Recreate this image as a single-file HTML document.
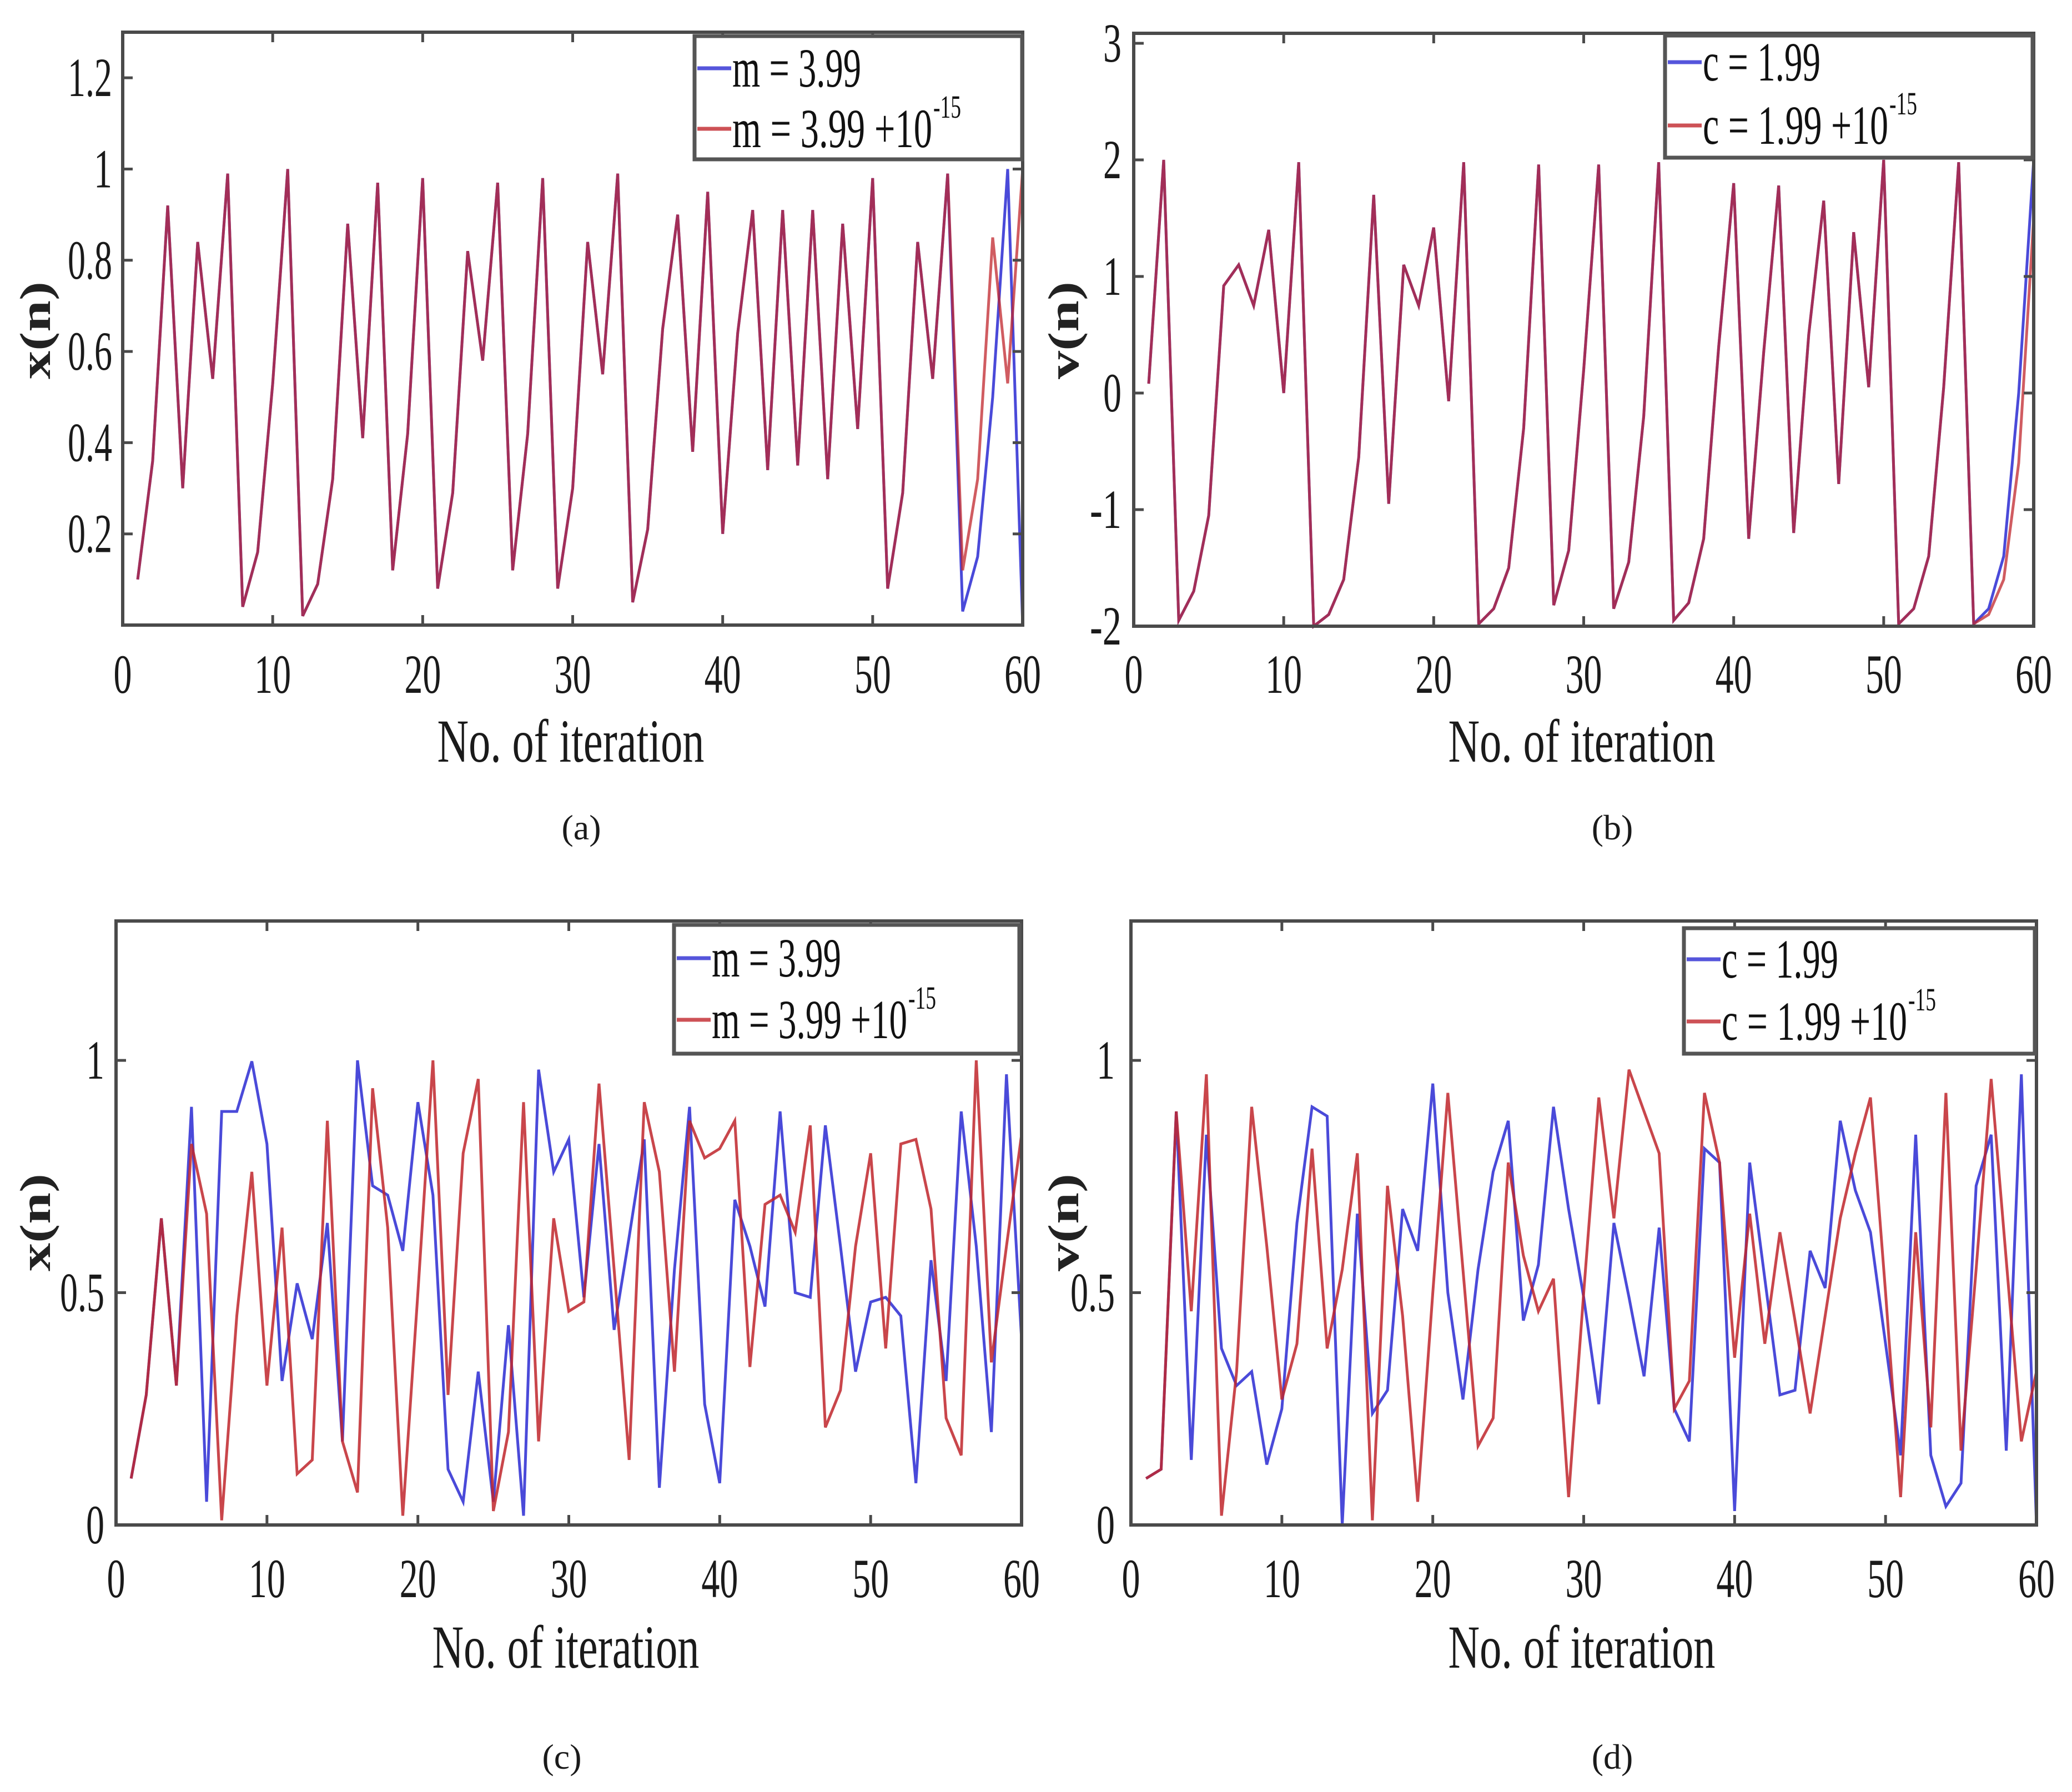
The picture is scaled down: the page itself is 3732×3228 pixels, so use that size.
<!DOCTYPE html>
<html><head><meta charset="utf-8"><style>
html,body{margin:0;padding:0;background:#fff;}
svg{display:block;font-family:"Liberation Serif",serif;}
</style></head><body>
<svg id="fig" xmlns="http://www.w3.org/2000/svg" width="3732" height="3228" viewBox="0 0 3732 3228">
<rect x="0" y="0" width="3732" height="3228" fill="#fff"/>
</svg>
<script>
var xTicks=[0,10,20,30,40,50,60];
var aYTicks=[0.2,0.4,0.6,0.8,1,1.2];
var aYTickLabels=["0.2","0.4","0.6","0.8","1","1.2"];
var bYTicks=[-2,-1,0,1,2,3];
var bYTickLabels=["-2","-1","0","1","2","3"];
var cdYTicks=[0,0.5,1];
var cdYTickLabels=["0","0.5","1"];
var aBlue=[0.1,0.36,0.92,0.30,0.84,0.54,0.99,0.04,0.16,0.53,1.0,0.02,0.09,0.32,0.88,0.41,0.97,0.12,0.42,0.98,0.08,0.29,0.82,0.58,0.97,0.12,0.42,0.98,0.08,0.30,0.84,0.55,0.99,0.05,0.21,0.65,0.90,0.38,0.95,0.20,0.64,0.91,0.34,0.91,0.35,0.91,0.32,0.88,0.43,0.98,0.08,0.29,0.84,0.54,0.99,0.03,0.15,0.50,1.0,0.0];
var aRed=[0.1,0.36,0.92,0.30,0.84,0.54,0.99,0.04,0.16,0.53,1.0,0.02,0.09,0.32,0.88,0.41,0.97,0.12,0.42,0.98,0.08,0.29,0.82,0.58,0.97,0.12,0.42,0.98,0.08,0.30,0.84,0.55,0.99,0.05,0.21,0.65,0.90,0.38,0.95,0.20,0.64,0.91,0.34,0.91,0.35,0.91,0.32,0.88,0.43,0.98,0.08,0.29,0.84,0.54,0.99,0.12,0.32,0.85,0.53,1.0];
var bBlue=[0.08,2.0,-1.95,-1.7,-1.05,0.92,1.1,0.75,1.4,0.0,1.98,-2.0,-1.9,-1.6,-0.55,1.7,-0.95,1.1,0.75,1.42,-0.07,1.98,-1.98,-1.85,-1.5,-0.3,1.96,-1.82,-1.35,0.2,1.96,-1.85,-1.45,-0.2,1.98,-1.95,-1.8,-1.25,0.4,1.8,-1.25,0.35,1.78,-1.2,0.5,1.65,-0.78,1.38,0.05,2.0,-1.98,-1.85,-1.4,0.05,1.98,-1.98,-1.85,-1.4,0.0,2.0];
var bRed=[0.08,2.0,-1.95,-1.7,-1.05,0.92,1.1,0.75,1.4,0.0,1.98,-2.0,-1.9,-1.6,-0.55,1.7,-0.95,1.1,0.75,1.42,-0.07,1.98,-1.98,-1.85,-1.5,-0.3,1.96,-1.82,-1.35,0.2,1.96,-1.85,-1.45,-0.2,1.98,-1.95,-1.8,-1.25,0.4,1.8,-1.25,0.35,1.78,-1.2,0.5,1.65,-0.78,1.38,0.05,2.0,-1.98,-1.85,-1.4,0.05,1.98,-1.98,-1.9,-1.6,-0.6,1.5];
var cBlue=[0.1,0.28,0.66,0.3,0.9,0.05,0.89,0.89,0.998,0.82,0.31,0.52,0.4,0.65,0.18,1.0,0.73,0.71,0.59,0.91,0.71,0.12,0.05,0.33,0.05,0.43,0.02,0.98,0.76,0.83,0.49,0.82,0.42,0.62,0.83,0.08,0.55,0.9,0.26,0.09,0.7,0.6,0.47,0.89,0.5,0.49,0.86,0.6,0.33,0.48,0.49,0.45,0.09,0.57,0.31,0.89,0.6,0.2,0.97,0.4];
var cRed=[0.1,0.28,0.66,0.3,0.82,0.67,0.01,0.45,0.76,0.3,0.64,0.11,0.14,0.87,0.18,0.07,0.94,0.64,0.02,0.5,1.0,0.28,0.8,0.96,0.03,0.2,0.91,0.18,0.66,0.46,0.48,0.95,0.55,0.14,0.91,0.76,0.33,0.87,0.79,0.81,0.87,0.34,0.69,0.71,0.63,0.86,0.21,0.29,0.6,0.8,0.38,0.82,0.83,0.68,0.23,0.15,1.0,0.35,0.6,0.84];
var dBlue=[0.1,0.12,0.89,0.14,0.84,0.38,0.3,0.33,0.13,0.25,0.65,0.9,0.88,0.0,0.67,0.24,0.29,0.68,0.59,0.95,0.5,0.27,0.55,0.76,0.87,0.44,0.56,0.9,0.68,0.49,0.26,0.65,0.49,0.32,0.64,0.25,0.18,0.81,0.78,0.03,0.78,0.53,0.28,0.29,0.59,0.51,0.87,0.72,0.63,0.39,0.15,0.84,0.15,0.04,0.09,0.73,0.84,0.16,0.97,0.0];
var dRed=[0.1,0.12,0.89,0.46,0.97,0.02,0.33,0.9,0.6,0.27,0.39,0.81,0.38,0.55,0.8,0.01,0.73,0.45,0.05,0.5,0.93,0.55,0.17,0.23,0.78,0.58,0.46,0.53,0.06,0.5,0.92,0.66,0.98,0.89,0.8,0.25,0.31,0.93,0.78,0.36,0.67,0.39,0.63,0.44,0.24,0.45,0.66,0.8,0.92,0.5,0.06,0.63,0.21,0.93,0.16,0.55,0.96,0.57,0.18,0.33];

var NS="http://www.w3.org/2000/svg";
var svg=document.getElementById("fig");
var BLUE="#2a2ad2", RED="#c0262c";
function mk(tag,parent){var e=document.createElementNS(NS,tag);parent.appendChild(e);return e;}

function panel(cfg){
  var g=mk("g",svg);
  
  
  var L=cfg.left,R=cfg.right,T=cfg.top,B=cfg.bottom;
  function sx(v){return L+(v-0)/(60-0)*(R-L);}
  function sy(v){return B-(v-cfg.ymin)/(cfg.ymax-cfg.ymin)*(B-T);}
  // series
  function series(arr,color,name,op){
    var pts=[];
    for(var i=0;i<arr.length;i++){pts.push(sx(i+1).toFixed(1)+","+sy(arr[i]).toFixed(1));}
    var p=mk("polyline",g);
    
    
    p.setAttribute("points",pts.join(" "));
    p.setAttribute("fill","none");
    p.setAttribute("stroke",color);
    p.setAttribute("stroke-width","5");
    p.setAttribute("stroke-opacity",op);
    p.setAttribute("stroke-linejoin","miter");
  }
  series(cfg.blue,BLUE,cfg.key+'-blue-series',"0.85");
  series(cfg.red,RED,cfg.key+'-red-series',cfg.redOp);
  // frame
  var fr=mk("rect",g);
  
  
  fr.setAttribute("x",L);fr.setAttribute("y",T);fr.setAttribute("width",R-L);fr.setAttribute("height",B-T);
  fr.setAttribute("fill","none");fr.setAttribute("stroke","#4a4a4a");fr.setAttribute("stroke-width","6");
  // x ticks
  for(var i=0;i<xTicks.length;i++){
    var x=sx(xTicks[i]);
    var t1=mk("line",g);
    
    
    t1.setAttribute("x1",x);t1.setAttribute("x2",x);t1.setAttribute("y1",B);t1.setAttribute("y2",B-18);
    t1.setAttribute("stroke","#4a4a4a");t1.setAttribute("stroke-width","5");
    var t2=mk("line",g);
    
    
    t2.setAttribute("x1",x);t2.setAttribute("x2",x);t2.setAttribute("y1",T);t2.setAttribute("y2",T+18);
    t2.setAttribute("stroke","#4a4a4a");t2.setAttribute("stroke-width","5");
    var s=String(xTicks[i]);
    var tx=mk("text",g);
    
    
    tx.setAttribute("x",x);tx.setAttribute("y",cfg.xLabelBase);
    tx.setAttribute("text-anchor","middle");tx.setAttribute("font-size","100");tx.setAttribute("fill","#1a1a1a");
    tx.setAttribute("textLength",s.length*33);tx.setAttribute("lengthAdjust","spacingAndGlyphs");
    tx.textContent=s;
  }
  // y ticks
  for(var j=0;j<cfg.yTicks.length;j++){
    var y=sy(cfg.yTicks[j]);
    var u1=mk("line",g);
    
    
    u1.setAttribute("x1",L);u1.setAttribute("x2",L+18);u1.setAttribute("y1",y);u1.setAttribute("y2",y);
    u1.setAttribute("stroke","#4a4a4a");u1.setAttribute("stroke-width","5");
    var u2=mk("line",g);
    
    
    u2.setAttribute("x1",R);u2.setAttribute("x2",R-18);u2.setAttribute("y1",y);u2.setAttribute("y2",y);
    u2.setAttribute("stroke","#4a4a4a");u2.setAttribute("stroke-width","5");
    var lab=cfg.yLabels[j];
    var ty=mk("text",g);
    
    
    ty.setAttribute("x",cfg.yLabelRight);ty.setAttribute("y",y+33);
    ty.setAttribute("text-anchor","end");ty.setAttribute("font-size","100");ty.setAttribute("fill","#1a1a1a");
    var w=0;for(var k=0;k<lab.length;k++){w+=(lab[k]=="."?14:(lab[k]=="-"?24:33));}
    ty.setAttribute("textLength",w);ty.setAttribute("lengthAdjust","spacingAndGlyphs");
    ty.textContent=lab;
  }
  // axis titles
  var xt=mk("text",g);
  
  
  xt.setAttribute("x",cfg.xTitleX);xt.setAttribute("y",cfg.xTitleBase);
  xt.setAttribute("text-anchor","middle");xt.setAttribute("font-size","110");xt.setAttribute("fill","#1a1a1a");
  xt.setAttribute("textLength","481");xt.setAttribute("lengthAdjust","spacingAndGlyphs");
  xt.textContent="No. of iteration";
  var yt=mk("text",g);
  
  
  yt.setAttribute("transform","translate("+cfg.yTitleX+","+cfg.yTitleY+") rotate(-90)");
  yt.setAttribute("x","0");yt.setAttribute("y","24");
  yt.setAttribute("text-anchor","middle");yt.setAttribute("font-size","78");yt.setAttribute("font-weight","bold");yt.setAttribute("fill","#222");
  yt.setAttribute("textLength","176");yt.setAttribute("lengthAdjust","spacingAndGlyphs");
  yt.textContent=cfg.yTitle;
  // caption
  var cp=mk("text",g);
  
  
  cp.setAttribute("x",cfg.capX);cp.setAttribute("y",cfg.capY);
  cp.setAttribute("text-anchor","middle");cp.setAttribute("font-size","64");cp.setAttribute("fill","#1a1a1a");
  cp.textContent=cfg.caption;
  // legend
  var lg=mk("g",g);
  
  
  var lb=mk("rect",lg);
  
  
  lb.setAttribute("x",cfg.lgX);lb.setAttribute("y",cfg.lgY);lb.setAttribute("width",cfg.lgW);lb.setAttribute("height",cfg.lgH);
  lb.setAttribute("fill","#fff");lb.setAttribute("stroke","#555");lb.setAttribute("stroke-width","7");
  var ents=[{c:BLUE,y:cfg.lgY1,sup:false,n:'legend-entry-base'},{c:RED,y:cfg.lgY2,sup:true,n:'legend-entry-perturbed'}];
  for(var e=0;e<2;e++){
    var en=ents[e];
    var ll=mk("line",lg);
    
    
    ll.setAttribute("x1",cfg.lgX+5);ll.setAttribute("x2",cfg.lgX+66);ll.setAttribute("y1",en.y);ll.setAttribute("y2",en.y);
    ll.setAttribute("stroke",en.c);ll.setAttribute("stroke-width","7");ll.setAttribute("stroke-opacity","0.8");
    var lt=mk("text",lg);
    
    
    lt.setAttribute("x",cfg.lgX+68);lt.setAttribute("y",en.y+33);
    lt.setAttribute("font-size","100");lt.setAttribute("fill","#111");
    if(!en.sup){
      lt.setAttribute("textLength",cfg.lgT1);lt.setAttribute("lengthAdjust","spacingAndGlyphs");
      lt.textContent=cfg.param+" = "+cfg.val;
    } else {
      lt.setAttribute("textLength",cfg.lgT2);lt.setAttribute("lengthAdjust","spacingAndGlyphs");
      lt.textContent=cfg.param+" = "+cfg.val+" +10";
      var st=mk("text",lg);
      
      
      st.setAttribute("x",cfg.lgX+68+cfg.lgT2+2);st.setAttribute("y",en.y-20);
      st.setAttribute("font-size","58");st.setAttribute("fill","#111");
      st.setAttribute("textLength","50");st.setAttribute("lengthAdjust","spacingAndGlyphs");
      st.textContent="-15";
    }
  }
}

panel({key:'a',left:221,right:1842,top:58,bottom:1126,ymin:0,ymax:1.3,blue:aBlue,red:aRed,redOp:"0.75",
  yTicks:aYTicks,yLabels:aYTickLabels,yLabelRight:202,xLabelBase:1248,xTitleX:1028,xTitleBase:1372,
  yTitleX:66,yTitleY:595,yTitle:"x(n)",capX:1047,capY:1512,caption:"(a)",
  param:"m",val:"3.99",lgX:1251,lgY:65,lgW:590,lgH:222,lgY1:123,lgY2:232,lgT1:232,lgT2:360});
panel({key:'b',left:2042,right:3663,top:60,bottom:1128,ymin:-2,ymax:3.086,blue:bBlue,red:bRed,redOp:"0.75",
  yTicks:bYTicks,yLabels:bYTickLabels,yLabelRight:2020,xLabelBase:1248,xTitleX:2849,xTitleBase:1372,
  yTitleX:1918,yTitleY:595,yTitle:"v(n)",capX:2904,capY:1512,caption:"(b)",
  param:"c",val:"1.99",lgX:2999,lgY:64,lgW:662,lgH:220,lgY1:112,lgY2:226,lgT1:212,lgT2:334});
panel({key:'c',left:209,right:1840,top:1659,bottom:2747,ymin:0,ymax:1.3,blue:cBlue,red:cRed,redOp:"0.85",
  yTicks:cdYTicks,yLabels:cdYTickLabels,yLabelRight:188,xLabelBase:2877,xTitleX:1019,xTitleBase:3004,
  yTitleX:66,yTitleY:2202,yTitle:"x(n)",capX:1012,capY:3186,caption:"(c)",
  param:"m",val:"3.99",lgX:1214,lgY:1666,lgW:622,lgH:232,lgY1:1726,lgY2:1837,lgT1:233,lgT2:352});
panel({key:'d',left:2037,right:3668,top:1659,bottom:2747,ymin:0,ymax:1.3,blue:dBlue,red:dRed,redOp:"0.85",
  yTicks:cdYTicks,yLabels:cdYTickLabels,yLabelRight:2008,xLabelBase:2877,xTitleX:2849,xTitleBase:3004,
  yTitleX:1918,yTitleY:2202,yTitle:"v(n)",capX:2904,capY:3186,caption:"(d)",
  param:"c",val:"1.99",lgX:3033,lgY:1672,lgW:632,lgH:226,lgY1:1728,lgY2:1840,lgT1:210,lgT2:334});
</script>
</body></html>
